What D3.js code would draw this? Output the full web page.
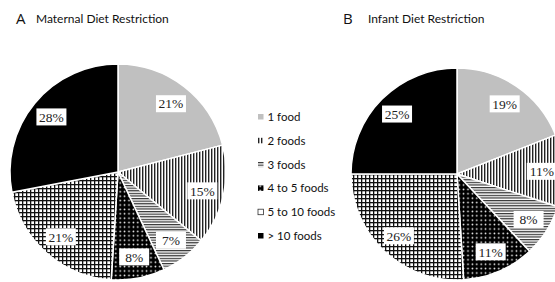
<!DOCTYPE html>
<html><head><meta charset="utf-8">
<script src="https://cdn.jsdelivr.net/npm/d3@7"></script>
<style>html,body{margin:0;padding:0;background:#fff;overflow:hidden}</style>
</head><body><svg id="c" width="555" height="282"></svg>
<script>
const categories = ["1 food", "2 foods", "3 foods", "4 to 5 foods", "5 to 10 foods", "> 10 foods"];
const maternalValues = [21, 15, 7, 8, 21, 28];
const infantValues = [19, 11, 8, 11, 26, 25];
const panelLetters = ["A", "B"];
const panelTitles = ["Maternal Diet Restriction", "Infant Diet Restriction"];

const svg = d3.select("#c");
const defs = svg.append("defs");

function pat(id, w, h, draw) {
  const p = defs.append("pattern").attr("id", id).attr("patternUnits", "userSpaceOnUse")
    .attr("width", w).attr("height", h);
  draw(p);
}
pat("p-grey", 4, 4, p => p.append("rect").attr("width", 4).attr("height", 4).attr("fill", "#c0c0c0"));
pat("p-vert", 3, 4, p => {
  p.append("rect").attr("width", 3).attr("height", 4).attr("fill", "#fff");
  p.append("rect").attr("x", 0).attr("width", 1.4).attr("height", 4).attr("fill", "#222");
});
pat("p-horiz", 4, 2.6, p => {
  p.append("rect").attr("width", 4).attr("height", 2.6).attr("fill", "#fff");
  p.append("rect").attr("y", 0).attr("width", 4).attr("height", 1.2).attr("fill", "#333");
});
pat("p-dots", 4.4, 4.4, p => {
  p.append("rect").attr("width", 4.4).attr("height", 4.4).attr("fill", "#000");
  p.append("circle").attr("cx", 2.2).attr("cy", 2.2).attr("r", 0.85).attr("fill", "#fff");
});
pat("p-grid", 4, 4, p => {
  p.append("rect").attr("width", 4).attr("height", 4).attr("fill", "#fff");
  p.append("rect").attr("width", 4).attr("height", 1.3).attr("fill", "#111");
  p.append("rect").attr("width", 1.3).attr("height", 4).attr("fill", "#111");
});
pat("p-black", 4, 4, p => p.append("rect").attr("width", 4).attr("height", 4).attr("fill", "#000"));

const fills = d3.scaleOrdinal().domain(categories)
  .range(["url(#p-grey)", "url(#p-vert)", "url(#p-horiz)", "url(#p-dots)", "url(#p-grid)", "url(#p-black)"]);

const pie = d3.pie().sort(null).value(d => d.v);

function drawPie(values, cx, cy, r) {
  const data = categories.map((c, i) => ({ c, v: values[i] }));
  const arcs = pie(data);
  const arc = d3.arc().innerRadius(0).outerRadius(r);
  const lab = d3.arc().innerRadius(r * 0.8).outerRadius(r * 0.8);
  const g = svg.append("g").attr("transform", `translate(${cx},${cy})`);
  g.selectAll("path.s").data(arcs).join("path").attr("class", "s")
    .attr("d", arc).attr("fill", d => fills(d.data.c))
    .attr("stroke", "#fff").attr("stroke-width", 1.5).attr("stroke-linejoin", "round");
  const lg = g.selectAll("g.l").data(arcs).join("g").attr("class", "l")
    .attr("transform", d => `translate(${lab.centroid(d)})`);
  lg.append("rect").attr("x", -15).attr("y", -8.5).attr("width", 30).attr("height", 17).attr("fill", "#fff");
  lg.append("text").attr("text-anchor", "middle").attr("dy", "0.35em")
    .attr("font-family", "Liberation Serif, Times New Roman, serif").attr("font-size", 13.5)
    .attr("fill", "#222").text(d => d.data.v + "%");
}

drawPie(maternalValues, 118, 172, 108);
drawPie(infantValues, 457, 174, 106);

const titlePos = [[16, 36], [343, 368]];
panelLetters.forEach((L, i) => {
  svg.append("text").attr("x", titlePos[i][0]).attr("y", 24)
    .attr("font-family", "Open Sans, sans-serif").attr("font-size", 15).attr("fill", "#111").text(L);
  svg.append("text").attr("x", titlePos[i][1]).attr("y", 23)
    .attr("font-family", "Lato, sans-serif").attr("font-size", 12).attr("fill", "#111").text(panelTitles[i]);
});

const ly = d3.scalePoint().domain(categories).range([117, 236]);
const leg = svg.append("g");
const items = leg.selectAll("g").data(categories).join("g")
  .attr("transform", d => `translate(258,${ly(d)})`);
items.append("rect").attr("x", 0).attr("y", -3).attr("width", 5.5).attr("height", 5.5)
  .attr("fill", d => d === "5 to 10 foods" ? "#fff" : fills(d))
  .attr("stroke", d => d === "5 to 10 foods" ? "#333" : "none").attr("stroke-width", 0.8);
items.append("text").attr("x", 9.5).attr("dy", "0.35em")
  .attr("font-family", "Lato, sans-serif").attr("font-size", 11.5).attr("fill", "#111").text(d => d);
</script>
</body></html>
